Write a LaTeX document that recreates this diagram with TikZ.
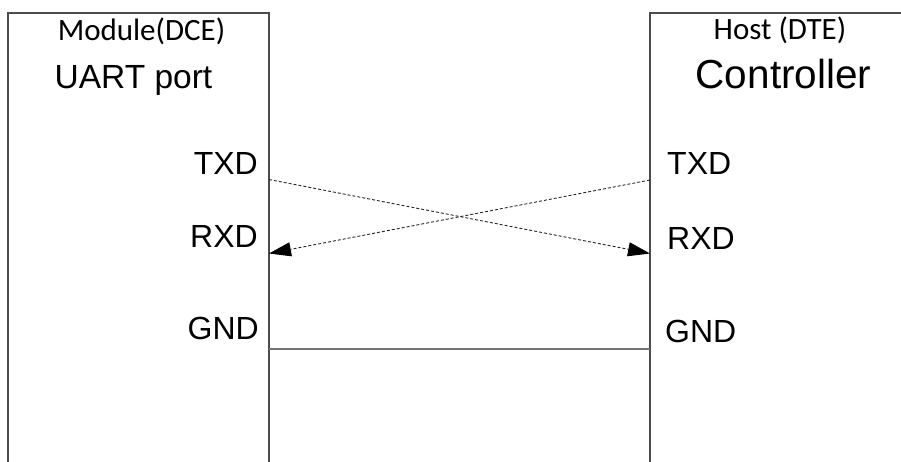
\documentclass[tikz,border=0pt]{standalone}
\usepackage{fontspec}
\setmainfont{Liberation Sans}
\newfontfamily\calibri{Carlito}
\usetikzlibrary{arrows.meta}
\begin{document}
\begin{tikzpicture}[x=1pt,y=-1pt,
  boxline/.style={draw=black!70, line width=1.3pt},
  sig/.style={draw=black!85, line width=0.9pt, dash pattern=on 3pt off 2pt},
  gndline/.style={draw=black!55, line width=1.6pt},
  tip/.style={-{Triangle[length=22pt,width=14pt,color=black,fill=black]}},
  pinL/.style={anchor=base east, inner sep=0pt, font=\fontsize{32}{32}\selectfont},
  pinR/.style={anchor=base west, inner sep=0pt, font=\fontsize{32}{32}\selectfont},
  titl/.style={anchor=base, inner sep=0pt, font=\calibri\fontsize{31}{31}\selectfont}]
\useasboundingbox (0,0) rectangle (901,461);
% boxes
\draw[boxline] (8,470) -- (8,13) -- (269,13) -- (269,470);
\draw[boxline] (650,470) -- (650,13) -- (910,13);
% titles
\node[titl] (mod) at (141.5,40.5) {Module(DCE)};
\node[anchor=base, inner sep=0pt, font=\fontsize{33.5}{33.5}\selectfont] (uart) at (133.5,88) {UART port};
\node[titl] (host) at (780,39.5) {Host (DTE)};
\node[anchor=base, inner sep=0pt, font=\fontsize{40.5}{40.5}\selectfont] (ctrl) at (783.5,88.5) {Controller};
% pin labels
\node[pinL] (ltxd) at (258,174) {TXD};
\node[pinL] (lrxd) at (258,247) {RXD};
\node[pinL] (lgnd) at (259,339) {GND};
\node[pinR] (rtxd) at (667,174) {TXD};
\node[pinR] (rrxd) at (667,249) {RXD};
\node[pinR] (rgnd) at (665,342) {GND};
% pin points
\coordinate (ltx) at (269,179.5);
\coordinate (lrx) at (269,253.5);
\coordinate (lgn) at (269,349);
\coordinate (rtx) at (650,180);
\coordinate (rrx) at (650,253.5);
\coordinate (rgn) at (650,349);
% connectors
\draw[sig,tip] (ltx) -- (rrx);
\draw[sig,tip] (rtx) -- (lrx);
\draw[gndline] (lgn) -- (rgn);
\end{tikzpicture}
\end{document}
